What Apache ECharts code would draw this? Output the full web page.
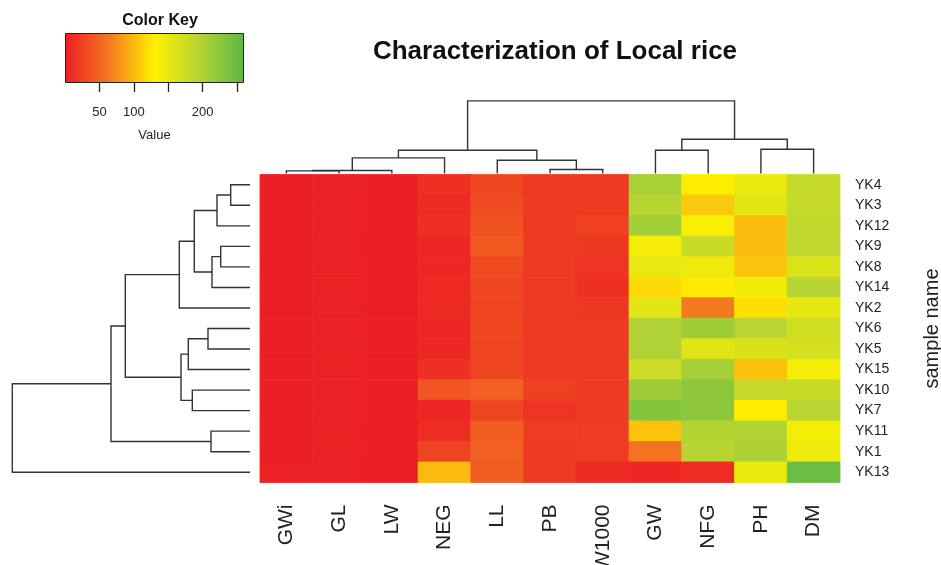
<!DOCTYPE html>
<html>
<head>
<meta charset="utf-8">
<script src="https://cdn.jsdelivr.net/npm/echarts@6/dist/echarts.min.js"></script>
<style>html,body{margin:0;padding:0;background:#fff;}#c{width:941px;height:565px;}</style>
</head>
<body>
<div id="c"></div>
<script>
// ---- data ----
const colLabels = ['GWi','GL','LW','NEG','LL','PB','W1000','GW','NFG','PH','DM'];
const rowLabels = ['YK4','YK3','YK12','YK9','YK8','YK14','YK2','YK6','YK5','YK15','YK10','YK7','YK11','YK1','YK13'];

// values per column, rows in rowLabels order
const valGWi   = [2.9, 2.8, 3.0, 2.7, 2.8, 2.9, 3.1, 2.8, 2.7, 2.9, 3.0, 2.8, 2.9, 3.0, 3.2];
const valGL    = [4.1, 3.9, 4.3, 3.8, 4.0, 4.2, 3.7, 4.4, 4.1, 3.9, 4.0, 4.2, 3.8, 4.1, 3.6];
const valLW    = [2.8, 2.8, 2.8, 2.9, 2.9, 2.8, 2.5, 3.0, 3.0, 2.7, 2.7, 2.9, 2.7, 2.7, 2.4];
const valNEG   = [14, 10, 13, 8, 8, 9, 9, 7, 8, 13, 40, 7, 11, 28, 100];
const valLL    = [30, 32, 37, 42, 32, 28, 27, 30, 28, 28, 48, 28, 45, 47, 44];
const valPB    = [20, 20, 20, 20, 20, 20, 20, 20, 20, 20, 25, 16, 23, 20, 20];
const valW1000 = [20, 20, 25, 19, 15, 14, 19, 20, 20, 20, 21, 21, 22, 22, 10];
const valGW    = [205, 195, 210, 140, 150, 118, 155, 200, 200, 178, 212, 230, 105, 60, 8];
const valNFG   = [128, 108, 135, 180, 145, 126, 65, 212, 158, 208, 225, 225, 198, 195, 12];
const valPH    = [148, 155, 102, 102, 106, 142, 120, 192, 165, 104, 183, 128, 198, 203, 148];
const valDM    = [182, 182, 186, 188, 163, 194, 152, 172, 168, 140, 180, 192, 140, 145, 248];
const columns = [valGWi, valGL, valLW, valNEG, valLL, valPB, valW1000, valGW, valNFG, valPH, valDM];

// column dendrogram (hclust style: negative = leaf, positive = earlier merge)
const colMerge  = [[-1,-2],[1,-3],[2,-4],[-6,-7],[-5,4],[3,5],[-8,-9],[-10,-11],[7,8],[6,9]];
const colHeight = [2.6, 3.0, 15.6, 4.0, 13.3, 23.3, 23.3, 24.3, 34.3, 72.6];
// row dendrogram
const rowMerge  = [[-1,-2],[1,-3],[-4,-5],[3,-6],[2,4],[5,-7],[-8,-9],[7,-10],[-11,-12],[8,9],[6,10],[-13,-14],[11,12],[13,-15]];
const rowHeight = [19.3, 33, 29.3, 38, 55.7, 70.7, 42, 61.7, 57.7, 69, 124.7, 39, 139, 237.7];

// color key
const keyMin = 0, keyMax = 260;
const keyTicks = [50, 100, 150, 200, 250];
const keyLabels = [50, 100, 200];
const palette = ['#EC1C24', '#F47A20', '#FFF100', '#B7D433', '#5BB847'];

// ---- build ----
const heatData = [];
columns.forEach((col, ci) => col.forEach((v, ri) => heatData.push([ci, ri, v])));

function dendro(merge, heights, vertical) {
  const pos = [], segs = [];
  const info = id => id < 0 ? {p: -id - 1 + 0.5, h: 0} : {p: pos[id - 1], h: heights[id - 1]};
  merge.forEach((m, i) => {
    const a = info(m[0]), b = info(m[1]), H = heights[i];
    pos[i] = (a.p + b.p) / 2;
    const c = vertical
      ? [[a.p, a.h], [a.p, H], [b.p, H], [b.p, b.h]]
      : [[a.h, a.p], [H, a.p], [H, b.p], [b.h, b.p]];
    segs.push({coords: c});
  });
  return segs;
}

const FONT = 'Liberation Sans, Arial, sans-serif';
const lineStyle = {color: '#333', width: 1.4, opacity: 1};

const chart = echarts.init(document.getElementById('c'), null, {renderer: 'canvas'});
chart.setOption({
  animation: false,
  backgroundColor: '#fff',
  textStyle: {fontFamily: FONT},
  title: [
    {text: 'Characterization of Local rice', left: 550, top: 34, textAlign: 'center',
     textStyle: {fontSize: 26, fontWeight: 'bold', color: '#111', fontFamily: FONT}},
    {text: 'Color Key', left: 155, top: 8, textAlign: 'center',
     textStyle: {fontSize: 16, fontWeight: 'bold', color: '#111', fontFamily: FONT}}
  ],
  grid: [
    {left: 260, width: 580, top: 174.5, height: 308, outerBoundsMode: 'none'},   // heatmap
    {left: 260, width: 580, top: 98.5, height: 75, outerBoundsMode: 'none'},     // top dendrogram
    {left: 12, width: 238, top: 174.5, height: 308, outerBoundsMode: 'none'},    // left dendrogram
    {left: 65, width: 179, top: 33, height: 50, outerBoundsMode: 'none'}         // color key
  ],
  xAxis: [
    {gridIndex: 0, type: 'category', data: colLabels, position: 'bottom',
     axisLine: {show: false}, axisTick: {show: false}, splitLine: {show: false},
     axisLabel: {rotate: 90, fontSize: 21, color: '#222', margin: 22, fontFamily: FONT}},
    {gridIndex: 1, type: 'value', min: 0, max: colLabels.length, show: false},
    {gridIndex: 2, type: 'value', min: 0, max: 238, inverse: true, show: false},
    {gridIndex: 3, type: 'value', min: keyMin, max: keyMax, interval: 50,
     axisLine: {show: false}, splitLine: {show: false},
     axisTick: {show: true, length: 9, lineStyle: {color: '#222', width: 1.3}, customValues: keyTicks},
     axisLabel: {fontSize: 13, color: '#222', margin: 23, customValues: keyLabels, fontFamily: FONT},
     name: 'Value', nameLocation: 'middle', nameGap: 46,
     nameTextStyle: {fontSize: 13, color: '#222', fontFamily: FONT}}
  ],
  yAxis: [
    {gridIndex: 0, type: 'category', data: rowLabels, inverse: true, position: 'right',
     axisLine: {show: false}, axisTick: {show: false}, splitLine: {show: false},
     axisLabel: {fontSize: 14, color: '#222', margin: 15, fontFamily: FONT},
     name: 'sample name', nameLocation: 'middle', nameRotate: 90, nameGap: 82,
     nameTextStyle: {fontSize: 20, color: '#222', fontFamily: FONT}},
    {gridIndex: 1, type: 'value', min: 0, max: 75, show: false},
    {gridIndex: 2, type: 'value', min: 0, max: rowLabels.length, inverse: true, show: false},
    {gridIndex: 3, type: 'category', data: ['key'], show: false}
  ],
  visualMap: {
    type: 'continuous', show: false, min: keyMin, max: keyMax, seriesIndex: 0, dimension: 2,
    inRange: {color: palette}
  },
  series: [
    {type: 'custom', xAxisIndex: 0, yAxisIndex: 0, data: heatData, encode: {x: 0, y: 1}, silent: true,
     renderItem: function (params, api) {
       const c = api.coord([api.value(0), api.value(1)]);
       const s = api.size([1, 1]);
       const col = api.visual('color');
       return {type: 'rect',
         shape: {x: c[0] - s[0] / 2, y: c[1] - s[1] / 2, width: s[0], height: s[1]},
         style: {fill: col, stroke: col, lineWidth: 0.8}};
     }},
    {type: 'lines', coordinateSystem: 'cartesian2d', xAxisIndex: 1, yAxisIndex: 1, polyline: true,
     lineStyle: lineStyle, data: dendro(colMerge, colHeight, true), silent: true},
    {type: 'lines', coordinateSystem: 'cartesian2d', xAxisIndex: 2, yAxisIndex: 2, polyline: true,
     lineStyle: lineStyle, data: dendro(rowMerge, rowHeight, false), silent: true},
    {type: 'bar', xAxisIndex: 3, yAxisIndex: 3, data: [keyMax], barWidth: '100%', silent: true,
     itemStyle: {
       color: new echarts.graphic.LinearGradient(0, 0, 1, 0,
         palette.map((c, i) => ({offset: i / (palette.length - 1), color: c}))),
       borderColor: '#222', borderWidth: 1
     }}
  ]
});
</script>
</body>
</html>
